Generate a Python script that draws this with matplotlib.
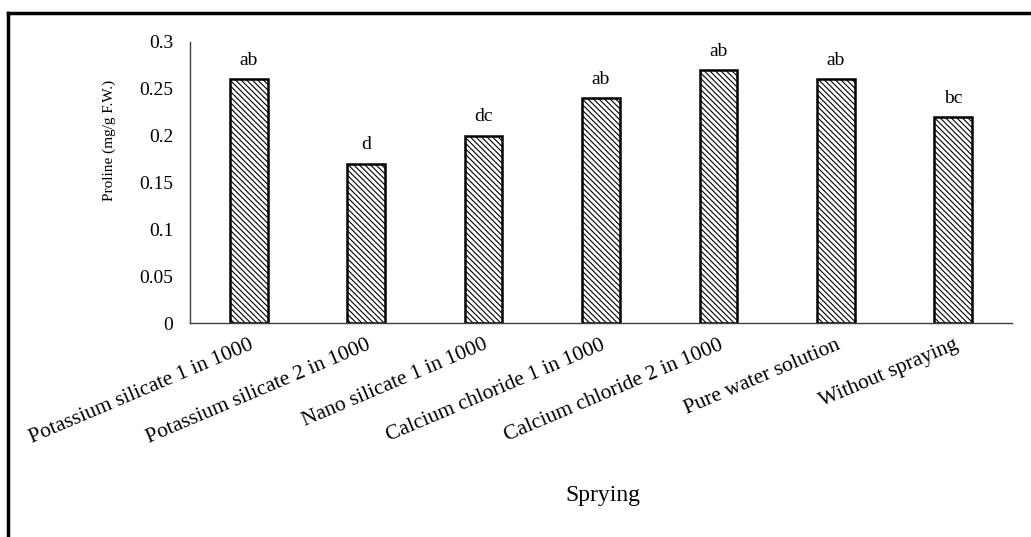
import matplotlib.pyplot as plt
from matplotlib.lines import Line2D

plt.rcParams['font.family'] = ['Liberation Serif', 'DejaVu Serif']
plt.rcParams['hatch.linewidth'] = 0.8

# Данные с рисунка
treatments = ['Potassium silicate 1 in 1000', 'Potassium silicate 2 in 1000',
              'Nano silicate 1 in 1000', 'Calcium chloride 1 in 1000',
              'Calcium chloride 2 in 1000', 'Pure water solution', 'Without spraying']
proline = [0.26, 0.17, 0.20, 0.24, 0.27, 0.26, 0.22]
letters = ['ab', 'd', 'dc', 'ab', 'ab', 'ab', 'bc']
yticks = [0, 0.05, 0.1, 0.15, 0.2, 0.25, 0.3]
ytick_labels = ['0', '0.05', '0.1', '0.15', '0.2', '0.25', '0.3']

fig = plt.figure(figsize=(10.31, 5.37), dpi=100)
ax = fig.add_axes([190 / 1031, 1 - 323 / 537, 822 / 1031, 281 / 537])

x = list(range(len(treatments)))
ax.bar(x, proline, width=0.32, color='white', edgecolor='black',
       linewidth=1.8, hatch='\\\\\\\\\\\\')

for xi, v, lab in zip(x, proline, letters):
    ax.text(xi, v + 0.011, lab, ha='center', va='bottom', fontsize=14)

ax.set_xlim(-0.5, len(treatments) - 0.5)
ax.set_ylim(0, 0.3)
ax.set_yticks(yticks)
ax.set_yticklabels(ytick_labels, fontsize=14)
ax.set_xticks(x)
ax.set_xticklabels(treatments, fontsize=15.5, rotation=23, ha='right',
                   va='top', rotation_mode='anchor')
ax.tick_params(axis='both', length=0, pad=12)
ax.tick_params(axis='x', pad=9)

for s in ['top', 'right']:
    ax.spines[s].set_visible(False)
ax.spines['left'].set_color('#404040')
ax.spines['bottom'].set_color('#404040')
ax.spines['left'].set_linewidth(1.0)
ax.spines['bottom'].set_linewidth(1.0)

ax.set_ylabel('Proline (mg/g F.W.)', fontsize=11)
ax.yaxis.set_label_coords(-0.09, 0.65)
fig.text(603 / 1031, 1 - 495 / 537, 'Sprying', ha='center', va='center', fontsize=17)

# рамка рисунка (видны только левая и верхняя линии)
fig.add_artist(Line2D([8 / 1031, 8 / 1031], [0, 1 - 13 / 537], color='black', linewidth=2.5))
fig.add_artist(Line2D([8 / 1031, 1], [1 - 13 / 537, 1 - 13 / 537], color='black', linewidth=2.5))

fig.savefig('out.png', dpi=100)
